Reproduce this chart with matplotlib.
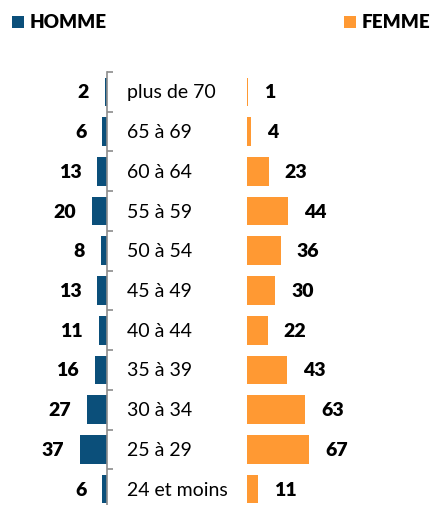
import numpy as np
import matplotlib
matplotlib.use("Agg")
import matplotlib.pyplot as plt
import matplotlib.transforms as mtransforms
from matplotlib.patches import Rectangle

plt.rcParams['font.family'] = ['Lato', 'DejaVu Sans']

# data (top to bottom)
categories = ['plus de 70', '65 à 69', '60 à 64', '55 à 59', '50 à 54', '45 à 49',
              '40 à 44', '35 à 39', '30 à 34', '25 à 29', '24 et moins']
homme = [2, 6, 13, 20, 8, 13, 11, 16, 27, 37, 6]
femme = [1, 4, 23, 44, 36, 30, 22, 43, 63, 67, 11]

blue = '#0B4F7A'
orange = '#FF9933'

W, H = 431, 506
fig = plt.figure(figsize=(W / 100, H / 100), dpi=100)

top_px, bot_px = 73.0, 510.0
b = 1 - bot_px / H
h = (bot_px - top_px) / H

# left axes (homme), bars growing leftwards
left_w = 106.7
axL = fig.add_axes([0, b, left_w / W, h])
# right axes (femme)
right_x0 = 247.5
axR = fig.add_axes([right_x0 / W, b, (W - right_x0) / W, h])

y = np.arange(len(categories))
axL.barh(y, homme, height=0.72, color=blue)
axR.barh(y, femme, height=0.72, color=orange)

axL.set_xlim(left_w / 0.73, 0)
axR.set_xlim(0, (W - right_x0) / 0.92)
for ax in (axL, axR):
    ax.set_ylim(len(categories) - 0.5, -0.5)
    ax.set_xticks([])
    for s in ax.spines.values():
        s.set_visible(False)
    ax.patch.set_alpha(0)

# gray axis line with boundary ticks on the homme side
axL.spines['right'].set_visible(True)
axL.spines['right'].set_color('#8C8C8C')
axL.spines['right'].set_linewidth(1.2)
axL.set_yticks(np.arange(-0.5, len(categories), 1))
axL.tick_params(axis='y', left=False, right=True, labelleft=False, labelright=False,
                direction='out', length=4, color='#8C8C8C', width=1.2)
axR.set_yticks([])

# value labels
for i, v in enumerate(homme):
    axL.annotate(str(v), xy=(v, i), xytext=(-16, 0), textcoords='offset pixels',
                 ha='right', va='center', fontsize=14, fontweight='heavy', color='black')
for i, v in enumerate(femme):
    axR.annotate(str(v), xy=(v, i), xytext=(16, 0), textcoords='offset pixels',
                 ha='left', va='center', fontsize=14, fontweight='heavy', color='black')

# category labels between the two sides
trans = mtransforms.blended_transform_factory(fig.transFigure, axL.transData)
for i, c in enumerate(categories):
    fig.text(127 / W, i, c, transform=trans, ha='left', va='center', fontsize=14, color='black')

# legends
fig.add_artist(Rectangle((12 / W, 1 - 29 / H), 12 / W, 12 / H, transform=fig.transFigure,
                         color=blue, lw=0))
fig.text(30 / W, 1 - 23 / H, 'HOMME', ha='left', va='center', fontsize=13.5, fontweight='heavy')
fig.add_artist(Rectangle((344 / W, 1 - 29 / H), 12 / W, 12 / H, transform=fig.transFigure,
                         color=orange, lw=0))
fig.text(362 / W, 1 - 23 / H, 'FEMME', ha='left', va='center', fontsize=13.5, fontweight='heavy')

fig.savefig('out.png', dpi=100)
